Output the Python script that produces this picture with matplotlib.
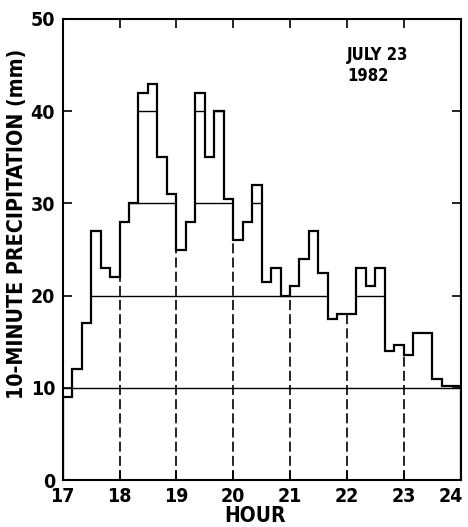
import numpy as np
import matplotlib
matplotlib.use("Agg")
import matplotlib.pyplot as plt
import matplotlib.transforms as mtransforms

plt.rcParams['font.family'] = ['DejaVu Sans']
plt.rcParams['font.stretch'] = 'condensed'

# 10-minute precipitation (mm), 17:00 -> 24:00, one value per 10 minutes
precip = [9, 12, 17, 27, 23, 22,
          28, 30, 42, 43, 35, 31,
          25, 28, 42, 35, 40, 30.5,
          26, 28, 32, 21.5, 23, 20,
          21, 24, 27, 22.5, 17.5, 18,
          18, 23, 21, 23, 14, 14.7,
          13.6, 16, 16, 11, 10.2, 10.2]
hours = [17, 18, 19, 20, 21, 22, 23, 24]
levels = [20, 30, 40]

vals = np.array(precip)
edges = 17 + np.arange(len(vals) + 1) / 6.0

fig = plt.figure(figsize=(4.68, 5.27), dpi=100)
ax = fig.add_axes([0.134, 0.089, 0.850, 0.875])

ax.stairs(vals, edges, baseline=0, color='black', lw=1.6)

# threshold lines, drawn over the stretches where rain reaches the level
ax.axhline(10, color='black', lw=1.0)
for lev in levels:
    above = vals >= lev
    i = 0
    while i < len(vals):
        if above[i]:
            j = i
            while j < len(vals) and above[j]:
                j += 1
            ax.hlines(lev, edges[i], edges[j], color='black', lw=1.0)
            i = j
        else:
            i += 1

# dashed hour markers up to the lower of the two neighbouring bins
for h in hours[1:-1]:
    k = (h - 17) * 6
    top = min(vals[k - 1], vals[k])
    ax.vlines(h, 0, top, color='black', lw=1.2, linestyles=(0, (6, 2.5)))

ax.set_xlim(17, 24)
ax.set_ylim(0, 50)
ax.set_xticks(hours)
ax.set_yticks([0, 10, 20, 30, 40, 50])
ax.tick_params(direction='in', top=True, right=True, length=6.5, width=1.2,
               labelsize=14)
ax.tick_params(axis='x', pad=5)
ax.tick_params(axis='y', pad=5.5)
for lab in ax.get_xticklabels() + ax.get_yticklabels():
    lab.set_fontweight('bold')
for sp in ax.spines.values():
    sp.set_linewidth(1.5)

# last hour label sits a little to the left, inside the page
last = ax.get_xticklabels()[-1]
last.set_transform(last.get_transform() +
                   mtransforms.ScaledTranslation(-7 / 72, 0, fig.dpi_scale_trans))

ax.set_xlabel('HOUR', fontsize=15, fontweight='bold', va='top')
ax.xaxis.set_label_coords(0.4835, -0.057)
ax.set_ylabel('10-MINUTE PRECIPITATION (mm)', fontsize=15.3, fontweight='bold')
ax.yaxis.set_label_coords(-0.09, 0.556)
ax.text(22.0, 47.1, 'JULY 23\n1982', fontsize=12, fontweight='bold',
        ha='left', va='top', linespacing=1.25)

fig.savefig('out.png', dpi=100)
